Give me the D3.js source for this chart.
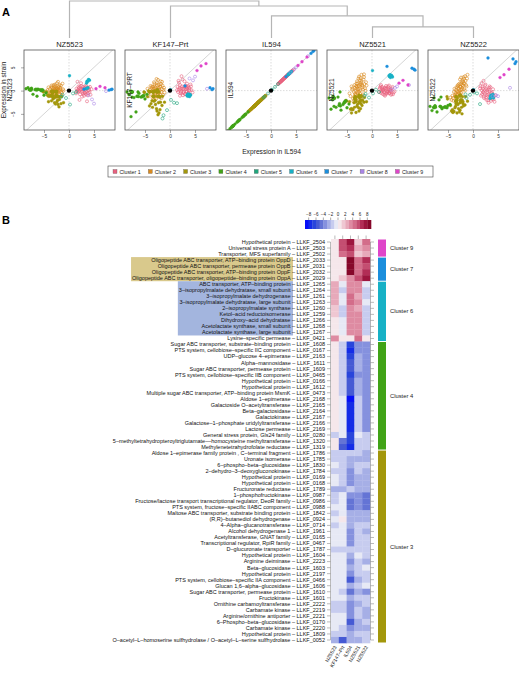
<!DOCTYPE html>
<html><head><meta charset="utf-8">
<script src="https://cdn.jsdelivr.net/npm/d3@7"></script>
<style>body{margin:0;background:#fff}svg{font-family:"Liberation Sans",Arial,Helvetica,sans-serif}</style>
</head><body><svg id="c" width="519" height="675"></svg>
<script>
// ---------------- DATA ----------------
const strainKeys = ["NZ5523", "KF147", "IL594", "NZ5521", "NZ5522"];
const panelTitles = ["NZ5523", "KF147–Prt", "IL594", "NZ5521", "NZ5522"];
const panelYLabels = ["NZ5523", "KF147–PRT", "IL594", "NZ5521", "NZ5522"];
const columnLabels = ["NZ5523", "KF147–Prt", "IL594", "NZ5521", "NZ5522"];
const clusterNames = ["Cluster 1","Cluster 2","Cluster 3","Cluster 4","Cluster 5","Cluster 6","Cluster 7","Cluster 8","Cluster 9"];
const clusterColors = ["#E8617E","#D98A1E","#A3970B","#41A317","#20A57C","#17B1C6","#1B8EDC","#A985E6","#DF45C9"];
const axisTicks = [-5, 0, 5];
const colorbarTicks = [-8, -6, -4, -2, 0, 2, 4, 6, 8];
// dendrogram merge heights (relative), leaves = strains
const dendroMerges = [["NZ5521","NZ5522",0.30],["IL594","m0",0.60],["KF147","m1",0.865],["NZ5523","m2",1.0]];

// heatmap rows
const hmDesc = [
 "Hypothetical protein","Universal stress protein A","Transporter, MFS superfamily",
 "Oligopeptide ABC transporter, ATP–binding protein OppD","Oligopeptide ABC transporter, permease protein OppB",
 "Oligopeptide ABC transporter, ATP–binding protein OppF","Oligopeptide ABC transporter, oligopeptide–binding protein OppA",
 "ABC transporter, ATP–binding protein","3–isopropylmalate dehydratase, small subunit","3–isopropylmalate dehydrogenase",
 "3–isopropylmalate dehydratase, large subunit","2–isopropylmalate synthase","Ketol–acid reductoisomerase",
 "Dihydroxy–acid dehydratase","Acetolactate synthase, small subunit","Acetolactate synthase, large subunit",
 "Lysine–specific permease","Sugar ABC transporter, substrate–binding protein","PTS system, cellobiose–specific IIC component",
 "UDP–glucose 4–epimerase","Alpha–mannosidase","Sugar ABC transporter, permease protein",
 "PTS system, cellobiose–specific IIB component","Hypothetical protein","Hypothetical protein",
 "Multiple sugar ABC transporter, ATP–binding protein MsmK","Aldose 1–epimerase","Galactoside O–acetyltransferase",
 "Beta–galactosidase","Galactokinase","Galactose–1–phosphate uridylyltransferase","Lactose permease",
 "General stress protein, Gls24 family","5–methyltetrahydropteroyltriglutamate––homocysteine methyltransferase",
 "Methylenetetrahydrofolate reductase","Aldose 1–epimerase family protein , C–terminal fragment","Uronate isomerase",
 "6–phospho–beta–glucosidase","2–dehydro–3–deoxygluconokinase","Hypothetical protein","Hypothetical protein",
 "Fructuronate reductase","1–phosphofructokinase","Fructose/lactose transport transcriptional regulator, DeoR family",
 "PTS system, fructose–specific IIABC component","Maltose ABC transporter, substrate binding protein",
 "(R,R)–butanediol dehydrogenase","4–Alpha–glucanotransferase","Alcohol dehydrogenase 1","Acetyltransferase, GNAT family",
 "Transcriptional regulator, RpiR family","D–glucuronate transporter","Hypothetical protein","Arginine deiminase",
 "Beta–glucosidase","Hypothetical protein","PTS system, cellobiose–specific IIA component","Glucan 1,6–alpha–glucosidase",
 "Sugar ABC transporter, permease protein","Fructokinase","Ornithine carbamoyltransferase","Carbamate kinase",
 "Arginine/ornithine antiporter","6–Phospho–beta–glucosidase","Carbamate kinase","Hypothetical protein",
 "O–acetyl–L–homoserine sulfhydrolase / O–acetyl–L–serine sulfhydrolase"];
const hmIds = ["2504","2503","2502","2033","2031","2032","2029","1265","1264","1261","1263","1260","1259","1266","1268","1267",
 "0421","1608","0167","2163","1611","1609","0465","0166","1612","0473","2168","2165","2164","2167","2166","2169","0280","1320",
 "1319","1786","1785","1830","1784","0169","0168","1789","0987","0986","0988","1842","0924","0714","1961","0165","0467","1787",
 "1604","2223","1603","2197","0466","1606","1610","1601","2222","2219","2221","0170","2220","1809","0052"];
const hmClusters = [9,9,9, 7,7,7,7, 6,6,6,6,6,6,6,6,6,6,
 4,4,4,4,4,4,4,4,4,4,4,4,4,4,4,4,4,4,
 3,3,3,3,3,3,3,3,3,3,3,3,3,3,3,3,3,3,3,3,3,3,3,3,3,3,3,3,3,3,3,3];
const highlightYellowRows = [3,4,5,6];
const highlightBlueRows = [7,8,9,10,11,12,13,14,15];
const hmNZ5523 = [0.6,0.9,0.4, 0.3,0.2,0.1,0.3, 2.0,2.4,2.2,2.3,1.9,1.6,0.6,0.4,0.5,3.2,
 0.2,0.3,0.1,0.2,0.0,0.3,0.2,0.1,0.0,0.4,0.2,0.3,0.5,0.1,0.2,-1.2,0.2,0.1,
 -1.3,-1.2,-0.4,-1.1,-0.3,-0.4,-2.6,-1.1,-1.2,-1.0,-1.1,-1.0,-1.3,-0.2,-0.3,-0.2,-1.3,-0.2,-0.3,-0.2,-0.1,-0.3,-0.2,-0.3,-0.2,-1.3,-1.2,-0.3,-0.2,-1.0,-1.3,-2.4];
const hmKF147 = [5.8,5.3,4.3, 0.4,0.2,0.6,1.0, -0.9,-1.3,-1.0,-0.8,-1.1,-1.2,-0.9,-1.0,-0.7,0.2,
 -1.3,-1.4,-1.2,-1.1,-1.3,-1.2,-1.4,-1.1,-1.3,-0.3,-0.2,-0.4,-0.3,-0.2,-0.1,-0.3,-4.6,-5.6,
 -1.4,-1.3,-1.2,-1.2,-1.3,-1.2,-2.5,-0.2,-0.3,-0.1,-0.2,0.2,-0.3,-0.3,-0.2,-0.1,-1.2,-0.3,-0.2,-0.3,-0.2,-0.4,-0.3,-1.3,-0.1,-1.2,-1.3,-0.4,-0.3,-1.3,-1.2,-5.2];
const hmIL594 = [7.2,6.2,5.4, 8.6,8.4,8.0,3.0, 3.6,3.9,4.1,4.0,3.7,3.5,3.8,3.4,3.6,0.1,
 -6.3,-7.6,-6.5,-5.4,-5.6,-6.6,-5.8,-5.2,-5.5,-8.6,-7.8,-7.6,-7.5,-7.6,-7.9,-6.4,-6.8,-7.8,
 -2.0,-2.3,-2.5,-3.4,-3.3,-3.2,-1.1,-4.0,-4.1,-4.3,-2.6,-2.5,-2.2,-3.5,-3.4,-3.1,-1.5,-2.6,-3.3,-2.5,-3.4,-5.1,-2.6,-4.5,-2.5,-3.3,-3.2,-3.3,-5.2,-3.3,-2.1,-2.4];
const hmNZ5521 = [1.2,2.2,1.6, 4.4,4.6,4.8,5.2, 3.0,3.2,2.9,3.1,2.8,3.0,3.3,3.2,3.4,4.3,
 -3.3,-3.4,-2.8,-2.3,-2.6,-3.2,-3.0,-2.2,-2.6,-1.6,-1.8,-1.5,-1.7,-1.6,-2.0,-0.3,-1.4,-1.2,
 -2.0,-2.1,-1.6,-1.5,-2.4,-2.3,-2.4,-4.0,-3.9,-4.0,-2.6,-2.6,-1.1,-1.7,-1.3,-1.4,-1.5,-1.0,-2.0,-1.2,-2.0,-2.3,-1.3,-2.4,-1.3,-2.1,-2.0,-1.4,-2.1,-2.4,-1.3,-2.3];
const hmNZ5522 = [4.6,3.4,2.8, 6.2,5.8,6.8,7.0, -1.0,-1.2,-1.6,-0.8,-1.1,-1.3,-1.4,-1.7,-1.5,0.2,
 -3.6,-3.5,-3.4,-3.6,-3.5,-3.4,-3.6,-3.7,-3.5,-3.4,-3.7,-3.3,-3.6,-3.3,-3.6,-1.4,-2.0,-1.6,
 -2.4,-2.2,-2.0,-2.8,-2.9,-2.8,-2.3,-4.7,-4.6,-4.4,-2.6,-2.5,-2.0,-2.3,-1.3,-1.5,-1.3,-1.1,-2.1,-1.0,-1.3,-1.8,-1.0,-3.2,-1.2,-2.0,-2.1,-2.1,-1.3,-2.5,-1.3,-2.0];

// additional scatter genes: [IL594, NZ5523, KF147, NZ5521, NZ5522]
const scatterC1 = [[1.5,0.4,0.8,0.3,0.9],[1.8,-0.3,0.2,-0.5,-0.8],[2.0,0.6,1.2,0.8,0.4],[2.2,-0.8,-0.4,0.1,-1.6],
 [2.4,0.2,0.5,-0.3,0.2],[2.5,1.0,2.4,0.6,1.3],[2.7,-0.5,-0.2,-0.8,-0.9],[2.9,0.3,0.9,0.4,-0.3],[3.0,-1.1,-0.8,-0.2,-2.1],
 [3.2,0.7,0.3,0.9,0.6],[3.4,-0.2,1.5,-0.6,-1.2],[3.6,0.5,-0.5,0.2,-0.5],[3.8,-0.6,0.6,-0.9,-1.8],[4.0,0.1,-0.9,0.5,0.3],
 [4.3,-0.9,0.1,-0.4,-2.4],[1.7,1.9,2.1,0.9,1.6],[2.1,-2.0,-0.6,-0.7,-0.4],[1.6,-0.1,-0.3,0.6,-1.1],[1.9,0.9,0.6,-0.2,0.8],
 [2.3,0.4,3.1,0.2,-0.6],[2.6,-1.3,-1.0,-1.1,-1.5],[2.8,0.8,0.4,1.0,0.1],[3.1,-0.4,1.1,-0.1,-2.6],[3.3,0.2,-0.3,0.7,-0.2],
 [3.5,0.9,0.7,-0.5,0.7],[3.7,-1.0,-0.6,0.3,-1.4],[3.9,0.6,0.2,-0.7,-0.7],[4.1,-0.3,1.3,0.8,-1.9],[4.5,0.3,-0.4,-0.2,-1.0],
 [1.4,-0.6,0.1,-0.3,0.5],[2.0,-0.1,-1.1,0.5,-0.3],[2.4,1.6,0.9,-0.9,1.1],[2.9,-0.7,2.0,-0.4,-1.1],[3.3,1.1,-0.1,0.3,0.9],
 [3.6,-2.3,0.9,-0.1,-2.2],[1.8,0.2,1.7,1.2,0.0],[2.2,0.9,-0.2,-0.1,-1.3],[2.6,-0.2,0.3,0.4,0.4],[3.0,0.5,-0.7,-0.6,-0.8],
 [3.4,-0.8,0.5,1.1,-1.7],[3.8,0.0,0.0,0.0,-0.4],[4.2,0.8,0.9,-0.8,-1.2],[2.1,0.0,0.4,0.2,2.1],[2.7,0.3,-0.5,0.6,-2.0],
 [3.2,-0.5,0.8,-0.3,0.2]];
const scatterC2 = [[-1.2,0.3,0.6,1.8,2.6],[-1.4,-0.5,-0.9,0.5,1.2],[-1.6,1.1,1.9,2.9,3.1],[-1.8,0.2,-0.3,-0.8,0.3],
 [-2.0,-0.8,0.8,1.2,1.9],[-2.1,0.7,-1.4,3.4,2.2],[-2.3,-0.2,0.2,0.1,-0.5],[-2.4,1.6,2.3,2.2,2.8],[-2.5,0.4,-0.6,-1.4,0.8],
 [-2.6,-1.1,1.2,0.9,-1.0],[-2.7,0.9,0.1,2.6,1.5],[-2.8,-0.4,-1.8,-0.5,-0.2],[-2.9,0.2,0.7,1.6,0.5],[-3.0,-0.7,-0.4,-2.1,-1.4],
 [-3.1,1.2,1.5,0.4,1.1],[-3.2,0.0,-1.1,1.0,-0.8],[-3.3,-1.3,0.4,-1.0,-1.8],[-3.4,0.6,-0.2,0.6,0.2],[-3.6,-0.3,0.9,-0.3,-1.2],
 [-3.8,0.4,-0.7,-1.7,-0.3],[-4.0,-0.9,0.2,0.2,-1.6],[-4.3,0.1,-1.2,-1.2,-2.0],[-1.3,1.5,0.2,0.0,0.9],[-1.5,-1.0,1.1,1.4,2.1],
 [-1.7,0.5,-1.6,2.4,1.6],[-1.9,-0.1,2.0,0.7,2.9],[-2.2,1.9,0.6,1.8,0.6],[-2.4,-0.6,-0.8,-0.6,1.4],[-2.6,0.3,1.6,3.0,2.4],
 [-2.8,1.3,-0.1,0.3,-0.6],[-3.0,0.5,0.5,2.0,0.9],[-3.2,-0.9,1.8,-0.9,-0.1],[-3.5,0.8,-1.5,1.2,-0.9],[-3.7,-0.5,0.6,-2.3,0.4],
 [-4.1,0.7,-0.3,0.9,-1.1],[-4.5,-0.2,0.4,-0.6,-1.5],[-1.1,0.0,-0.4,1.1,3.4],[-1.6,-0.3,0.3,3.5,0.0],[-2.0,0.9,-0.9,-1.1,1.0],
 [-2.3,0.5,1.3,2.7,1.8],[-2.5,-1.5,0.0,0.4,-0.4],[-2.7,0.1,2.5,1.1,0.1],[-2.9,1.0,-1.3,-0.2,1.3],[-3.1,-0.2,0.9,1.5,-1.0],
 [-3.3,0.3,-2.0,0.0,0.7],[-3.5,1.1,0.1,-1.3,-0.5],[-3.9,-0.6,1.0,0.5,-2.2],[-2.1,-0.4,0.0,2.1,1.2],[-1.8,0.6,1.4,0.2,2.5],
 [-2.2,0.1,-0.5,1.5,0.3],[-2.6,0.6,0.3,-0.3,0.8],[-3.0,-0.2,-0.7,0.8,-0.3],[-3.4,-0.4,0.8,-0.7,-1.3],[-1.9,1.2,0.9,1.0,1.5],
 [-2.4,0.2,-0.2,1.3,0.2]];
const scatterC3 = [[-1.6,-2.8,-3.2,-2.5,-3.1],[-2.0,-3.5,-4.1,-3.2,-2.8],[-2.3,-2.1,-2.6,-3.9,-3.6],[-2.6,-1.4,-4.4,-4.4,-4.2],
 [-2.9,-2.6,-3.0,-3.0,-3.9],[-3.2,-1.8,-2.3,-4.7,-4.8],[-3.5,-2.2,-3.6,-3.6,-3.4],[-3.8,-1.2,-2.8,-4.1,-4.5],
 [-2.2,-3.0,-4.8,-2.8,-5.0],[-3.0,-1.6,-2.1,-3.4,-3.0],[-4.1,-2.4,-3.3,-4.8,-4.1],[-1.9,-1.9,-2.5,-2.1,-3.3],
 [-2.7,-2.9,-3.9,-3.7,-4.6],[-3.6,-1.1,-2.2,-2.6,-3.7]];
const scatterC4 = [[-8.2,0.6,-0.9,-4.0,-4.3],[-7.2,-0.8,-1.5,-3.6,-4.6],[-6.2,0.3,-0.6,-4.2,-3.9],[-4.6,-0.5,-0.8,-2.9,-3.0],[-5.0,-1.0,-1.8,-3.7,-3.2]];
const scatterC5 = [[0.2,-3.0,-2.0,-0.6,-0.4],[-0.6,-1.6,-4.2,-1.5,-0.9],[-1.3,-0.9,-5.3,-0.7,-1.6],[-1.5,-1.3,-6.0,-1.1,-0.8],[0.8,-0.6,-2.6,0.2,-0.6],[1.4,-0.3,-2.7,-0.3,-2.9]];
const scatterC8 = [[7.4,-0.1,0.4,1.2,0.6],[4.6,-1.9,2.2,0.6,-1.0],[5.0,-2.8,3.0,0.9,-1.2],[3.9,-1.0,2.6,0.2,-1.2]];

// ---------------- BUILD ----------------
const svg = d3.select("#c");
const hmCols = {NZ5523: hmNZ5523, KF147: hmKF147, IL594: hmIL594, NZ5521: hmNZ5521, NZ5522: hmNZ5522};
const genes = [];
const addExtra = (arr, c) => arr.forEach(r => genes.push({c, IL594: r[0], NZ5523: r[1], KF147: r[2], NZ5521: r[3], NZ5522: r[4]}));
addExtra(scatterC1, 1); addExtra(scatterC2, 2); addExtra(scatterC3, 3); addExtra(scatterC4, 4); addExtra(scatterC5, 5);
hmIds.forEach((id, i) => { const g = {c: hmClusters[i]}; strainKeys.forEach(k => g[k] = hmCols[k][i]); genes.push(g); });
addExtra(scatterC8, 8);
genes.sort((a, b) => a.c - b.c);
const openClusters = new Set([1, 2, 5, 8]);

// Panel letters
svg.append("text").attr("x", 2).attr("y", 15.5).attr("font-size", 11).attr("font-weight", "bold").text("A");
svg.append("text").attr("x", 2).attr("y", 224).attr("font-size", 11).attr("font-weight", "bold").text("B");

// Panels
const pLeft = [24, 125, 226, 327, 428], pW = 91, pTop = 50, pH = 80;
const xDom = [-9, 9.2], yDom = [-8.47, 8.73];
const centers = {};
strainKeys.forEach((k, si) => {
  const L = pLeft[si];
  centers[k] = L + pW / 2;
  const x = d3.scaleLinear(xDom, [L, L + pW]);
  const y = d3.scaleLinear(yDom, [pTop + pH, pTop]);
  const g = svg.append("g");
  const cid = "clip" + si;
  g.append("clipPath").attr("id", cid).append("rect").attr("x", L).attr("y", pTop).attr("width", pW).attr("height", pH);
  const inner = g.append("g").attr("clip-path", `url(#${cid})`);
  inner.append("line").attr("x1", x(0)).attr("x2", x(0)).attr("y1", pTop).attr("y2", pTop + pH)
    .attr("stroke", "#c4c4c4").attr("stroke-width", 0.6).attr("stroke-dasharray", "1.5,1.5");
  inner.append("line").attr("x1", L).attr("x2", L + pW).attr("y1", y(0)).attr("y2", y(0))
    .attr("stroke", "#c4c4c4").attr("stroke-width", 0.6).attr("stroke-dasharray", "1.5,1.5");
  inner.append("line").attr("x1", x(-12)).attr("y1", y(-12)).attr("x2", x(12)).attr("y2", y(12))
    .attr("stroke", "#aaa").attr("stroke-width", 0.5);
  inner.selectAll("circle.pt").data(genes).join("circle").attr("class", "pt")
    .attr("cx", d => x(d.IL594)).attr("cy", d => y(d[k])).attr("r", d => openClusters.has(d.c) ? 1.5 : 1.45)
    .attr("fill", d => openClusters.has(d.c) ? "none" : clusterColors[d.c - 1])
    .attr("stroke", d => clusterColors[d.c - 1]).attr("stroke-width", d => openClusters.has(d.c) ? 0.6 : 0.3);
  inner.append("circle").attr("cx", x(0)).attr("cy", y(0)).attr("r", 2.2).attr("fill", "#000");
  g.append("rect").attr("x", L).attr("y", pTop).attr("width", pW).attr("height", pH)
    .attr("fill", "none").attr("stroke", "#555").attr("stroke-width", 0.8);
  const ax = g.append("g").attr("transform", `translate(0,${pTop + pH})`)
    .call(d3.axisBottom(x).tickValues(axisTicks).tickSize(3).tickPadding(2).tickFormat(d => d < 0 ? "−" + Math.abs(d) : d));
  ax.select(".domain").remove();
  ax.selectAll("line").attr("stroke", "#555").attr("stroke-width", 0.5);
  ax.selectAll("text").attr("font-size", 4.8).attr("fill", "#333").attr("font-family", null);
  if (si === 0) {
    const ay = g.append("g").attr("transform", `translate(${L},0)`)
      .call(d3.axisLeft(y).tickValues(axisTicks).tickSize(3).tickPadding(2).tickFormat(d => d < 0 ? "−" + Math.abs(d) : d));
    ay.select(".domain").remove();
    ay.selectAll("line").attr("stroke", "#555").attr("stroke-width", 0.5);
    ay.selectAll("text").attr("font-size", 4.8).attr("fill", "#333").attr("font-family", null)
      .attr("text-anchor", "middle").attr("dy", null).attr("x", null)
      .attr("transform", "translate(-9,0) rotate(-90)");
    g.append("text").attr("transform", `translate(5.5,${pTop + pH / 2}) rotate(-90)`).attr("text-anchor", "middle")
      .attr("font-size", 6.5).attr("fill", "#222").text("Expression in strain");
    g.append("text").attr("transform", `translate(12,${pTop + pH / 2}) rotate(-90)`).attr("text-anchor", "middle")
      .attr("font-size", 6.5).attr("fill", "#222").text(panelYLabels[0]);
  } else {
    g.append("text").attr("transform", `translate(${L + 7.3},${pTop + pH / 2}) rotate(-90)`).attr("text-anchor", "middle")
      .attr("font-size", 6.5).attr("fill", "#222").text(panelYLabels[si]);
  }
  g.append("text").attr("x", L + pW / 2).attr("y", pTop - 3).attr("text-anchor", "middle")
    .attr("font-size", 7.5).attr("fill", "#222").text(panelTitles[si]);
});
svg.append("text").attr("x", 271.5).attr("y", 153.5).attr("text-anchor", "middle").attr("font-size", 6.7).attr("fill", "#222").text("Expression in IL594");

// Dendrogram
const dY = h => 38 - h * 37;
const nodeX = Object.assign({}, centers), nodeH = {};
strainKeys.forEach(k => nodeH[k] = 0);
const dg = svg.append("g").attr("stroke", "#b5b5b5").attr("stroke-width", 1.2).attr("fill", "none");
dendroMerges.forEach((m, i) => {
  const [a, b, h] = m, id = "m" + i;
  nodeX[id] = (nodeX[a] + nodeX[b]) / 2; nodeH[id] = h;
  dg.append("path").attr("d", `M${nodeX[a]},${dY(nodeH[a])}V${dY(h)}H${nodeX[b]}V${dY(nodeH[b])}`);
});

// Legend
const lg = svg.append("g");
lg.append("rect").attr("x", 108).attr("y", 166).attr("width", 325).attr("height", 11).attr("fill", "none").attr("stroke", "#444").attr("stroke-width", 0.6);
clusterNames.forEach((n, i) => {
  const lx = 113 + i * 35.3;
  lg.append("rect").attr("x", lx).attr("y", 169.5).attr("width", 4).attr("height", 4).attr("fill", clusterColors[i]).attr("stroke", "#555").attr("stroke-width", 0.3);
  lg.append("text").attr("x", lx + 6.5).attr("y", 173.6).attr("font-size", 5.3).attr("fill", "#222").text(n);
});

// Heatmap
const nRows = hmIds.length;
const hx = d3.scaleBand(strainKeys, [331, 370]);
const hy = d3.scaleBand(d3.range(nRows), [239, 643]);
const colStops = [-9, -7, -5, -3, -1, 0, 1, 3, 5, 7, 9];
const colRange = ["#0000FF", "#1A3ADF", "#5465D0", "#95A0E2", "#D7DBF3", "#F7F7F7", "#F3D6DE", "#E39AAE", "#CD5E7E", "#A91C48", "#7A0020"];
const hmColor = d3.scaleLinear(colStops, colRange);
const binColor = v => hmColor(Math.max(-9, Math.min(8, Math.floor(v))) + 0.5);

// highlights (drawn first, sized from text)
const hlG = svg.append("g");
const labG = svg.append("g").attr("font-size", 5.5).attr("fill", "#111");
const labelX = 325;
const labs = labG.selectAll("text").data(hmIds).join("text")
  .attr("x", labelX).attr("y", (d, i) => hy(i) + hy.bandwidth() / 2 + 1.9).attr("text-anchor", "end")
  .text((d, i) => hmDesc[i] + " – LLKF_" + d);
const measure = labG.append("text").attr("x", 200).attr("y", 300).text(" – LLKF_2033");
const suffixW = measure.node().getComputedTextLength();
measure.remove();
const textW = labs.nodes().map(n => n.getComputedTextLength());
function highlight(rows, color) {
  const left = d3.min(rows, r => labelX - textW[r]) - 1;
  const right = labelX - suffixW + 1;
  hlG.append("rect").attr("x", left).attr("y", hy(rows[0])).attr("width", right - left)
    .attr("height", hy(rows[rows.length - 1]) + hy.bandwidth() - hy(rows[0])).attr("fill", color);
}
highlight(highlightYellowRows, "#D9C98C");
highlight(highlightBlueRows, "#A3B5DE");

const cells = [];
hmIds.forEach((id, i) => strainKeys.forEach(k => cells.push({i, k, v: hmCols[k][i]})));
svg.append("g").selectAll("rect").data(cells).join("rect")
  .attr("x", d => hx(d.k)).attr("y", d => hy(d.i)).attr("width", hx.bandwidth() + 0.3).attr("height", hy.bandwidth() + 0.3)
  .attr("fill", d => binColor(d.v));

// heatmap ticks
const tk = svg.append("g").attr("stroke", "#777").attr("stroke-width", 0.5);
hmIds.forEach((d, i) => {
  const cy = hy(i) + hy.bandwidth() / 2;
  tk.append("line").attr("x1", 327).attr("x2", 330.5).attr("y1", cy).attr("y2", cy);
  tk.append("line").attr("x1", 370.5).attr("x2", 374).attr("y1", cy).attr("y2", cy);
});
tk.append("line").attr("x1", 330.5).attr("x2", 330.5).attr("y1", hy(0) + 3).attr("y2", hy(nRows - 1) + 3);
tk.append("line").attr("x1", 370.5).attr("x2", 370.5).attr("y1", hy(0) + 3).attr("y2", hy(nRows - 1) + 3);
strainKeys.forEach(k => {
  const cx = hx(k) + hx.bandwidth() / 2;
  tk.append("line").attr("x1", cx).attr("x2", cx).attr("y1", 235.5).attr("y2", 239);
});

// column labels
strainKeys.forEach((k, i) => {
  const cx = hx(k) + hx.bandwidth() / 2 + 2;
  svg.append("text").attr("transform", `translate(${cx},647) rotate(-60)`).attr("text-anchor", "end")
    .attr("font-size", 5).attr("fill", "#222").text(columnLabels[i]);
});

// cluster side bar
const groups = d3.groups(d3.range(nRows), i => hmClusters[i]);
groups.forEach(([c, rows]) => {
  const y0 = hy(rows[0]), y1 = hy(rows[rows.length - 1]) + hy.bandwidth();
  svg.append("rect").attr("x", 378).attr("y", y0 + 0.5).attr("width", 8).attr("height", y1 - y0 - 1).attr("fill", clusterColors[c - 1]);
  svg.append("text").attr("x", 390).attr("y", (y0 + y1) / 2 + 2).attr("font-size", 5.8).attr("fill", "#222").text(clusterNames[c - 1]);
});

// colour key
const cbX = d3.scaleLinear([-9, 9], [305, 371]);
d3.range(-9, 9).forEach(b => {
  svg.append("rect").attr("x", cbX(b)).attr("y", 220).attr("width", cbX(b + 1) - cbX(b) + 0.3).attr("height", 9).attr("fill", hmColor(b + 0.5));
});
colorbarTicks.forEach(t => {
  svg.append("line").attr("x1", cbX(t)).attr("x2", cbX(t)).attr("y1", 217.5).attr("y2", 220).attr("stroke", "#555").attr("stroke-width", 0.5);
  svg.append("text").attr("x", cbX(t)).attr("y", 215.8).attr("text-anchor", "middle").attr("font-size", 4.5).attr("fill", "#222")
    .text(t < 0 ? "−" + Math.abs(t) : t);
});
</script></body></html>
